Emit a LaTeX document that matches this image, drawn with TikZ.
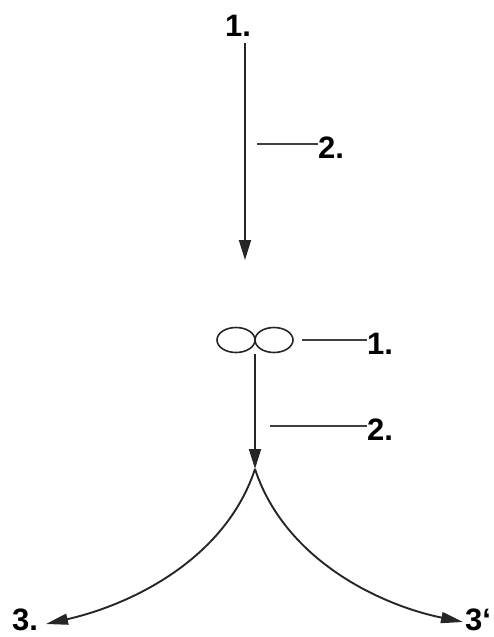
\documentclass[tikz,border=0pt]{standalone}
\usepackage{fontspec}
\setmainfont{Liberation Sans}
\usetikzlibrary{arrows.meta}
\begin{document}
\begin{tikzpicture}[x=1pt,y=-1pt,
  lbl/.style={font=\fontsize{31}{31}\selectfont\bfseries, inner sep=0pt},
  mainline/.style={line width=1.9pt, draw=black!85},
  leader/.style={line width=1.5pt, draw=black!75},
  tip/.style={-{Triangle[length=20pt,width=12pt]}}]
\useasboundingbox (0,0) rectangle (493,637);
% top part
\node[lbl] (t1) at (238,26) {1.};
\coordinate (a1s) at (245,43);
\coordinate (a1e) at (245,260);
\draw[mainline,tip] (a1s) -- (a1e);
\node[lbl] (t2) at (331,148) {2.};
\coordinate (l1s) at (257,144);
\draw[leader] (l1s) -- (l1s -| t2.west);
% infinity
\draw[mainline, line width=1.6pt] (236,340) ellipse [x radius=19, y radius=12.5];
\draw[mainline, line width=1.6pt] (274,340) ellipse [x radius=19, y radius=12.5];
\node[lbl] (m1) at (380,344) {1.};
\coordinate (l2s) at (302,340);
\draw[leader] (l2s) -- (l2s -| m1.west);
\coordinate (a2s) at (255,354);
\coordinate (apex) at (255,469);
\draw[mainline,tip] (a2s) -- (apex);
\node[lbl] (m2) at (380,430) {2.};
\coordinate (l3s) at (270,426);
\draw[leader] (l3s) -- (l3s -| m2.west);
% branches
\coordinate (ltip) at (46,624);
\coordinate (rtip) at (463,622);
\draw[mainline,-{Triangle[length=22pt,width=11pt]}] (apex) .. controls (225,560) and (130,605) .. (ltip);
\draw[mainline,-{Triangle[length=22pt,width=11pt]}] (apex) .. controls (285,560) and (380,605) .. (rtip);
\node[lbl] (b3) at (25,620) {3.};
\node[lbl] (b3p) at (478,620) {3`};
\end{tikzpicture}
\end{document}
